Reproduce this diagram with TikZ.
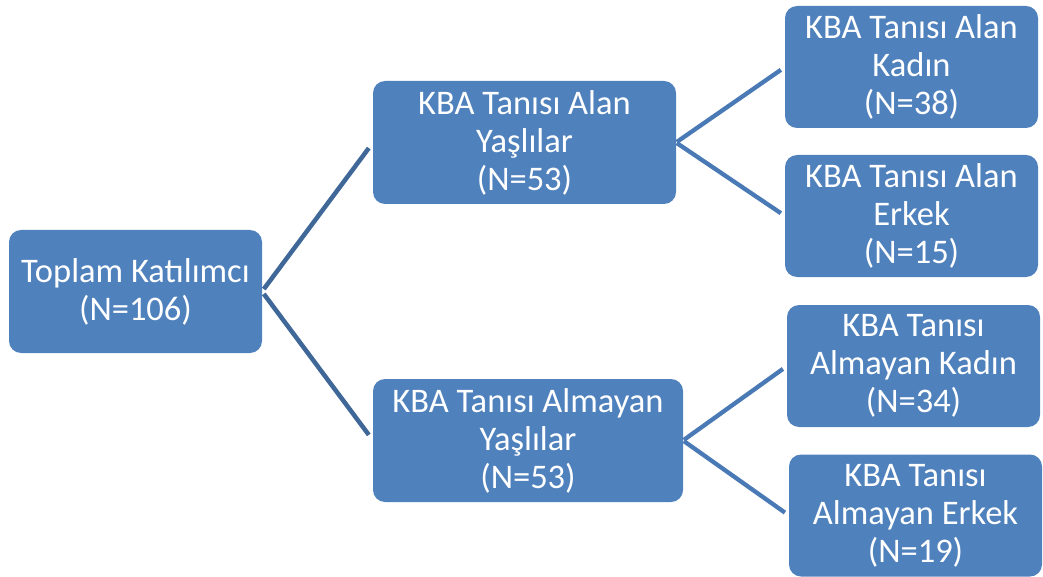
\documentclass[tikz,border=0pt]{standalone}
\usepackage{fontspec}
\setmainfont{Carlito}
\usepackage{tikz}
\usetikzlibrary{positioning}

\definecolor{boxblue}{HTML}{4F81BD}
\definecolor{linkdark}{HTML}{3F6797}
\definecolor{linklight}{HTML}{4A7AB5}

\begin{document}
\begin{tikzpicture}[x=1pt, y=1pt,
    groupbox/.style={fill=boxblue, rounded corners=12pt, text=white, align=center,
        inner sep=0pt, outer sep=0pt, minimum height=123pt,
        font=\fontsize{34.5}{38}\selectfont},
    leafbox/.style={groupbox, minimum width=253pt, minimum height=122pt},
    link/.style={line width=4.5pt, linkdark},
    sublink/.style={line width=4.3pt, linklight}]
    \useasboundingbox (0,0) rectangle (1043,-577);

    % Draw the total
    \node[groupbox, minimum width=253pt] (total) at (135.5,-291.5) {Toplam Katılımcı\\(N=106)};

    % Draw the two groups
    \node[groupbox, minimum width=303pt] (alan) at (524.5,-142.5) {KBA Tanısı Alan\\Yaşlılar\\(N=53)};
    \node[groupbox, minimum width=310pt] (almayan) at (528,-440.5) {KBA Tanısı Almayan\\Yaşlılar\\(N=53)};

    % Draw the leaves
    \node[leafbox] (alanK) at (911.5,-67) {KBA Tanısı Alan\\Kadın\\(N=38)};
    \node[leafbox] (alanE) at (911.5,-216) {KBA Tanısı Alan\\Erkek\\(N=15)};
    \node[leafbox] (almayanK) at (913.5,-366) {KBA Tanısı\\Almayan Kadın\\(N=34)};
    \node[leafbox] (almayanE) at (915.5,-515.5) {KBA Tanısı\\Almayan Erkek\\(N=19)};

    % Connect them
    \draw[link, shorten <=3pt, shorten >=7pt] (total.east) -- (alan.west);
    \draw[link, shorten <=3pt, shorten >=7pt] (total.east) -- (almayan.west);
    \draw[sublink, shorten <=1pt, shorten >=5pt] (alan.east) -- (alanK.west);
    \draw[sublink, shorten <=1pt, shorten >=5pt] (alan.east) -- (alanE.west);
    \draw[sublink, shorten <=1pt, shorten >=5pt] (almayan.east) -- (almayanK.west);
    \draw[sublink, shorten <=1pt, shorten >=5pt] (almayan.east) -- (almayanE.west);
\end{tikzpicture}
\end{document}
